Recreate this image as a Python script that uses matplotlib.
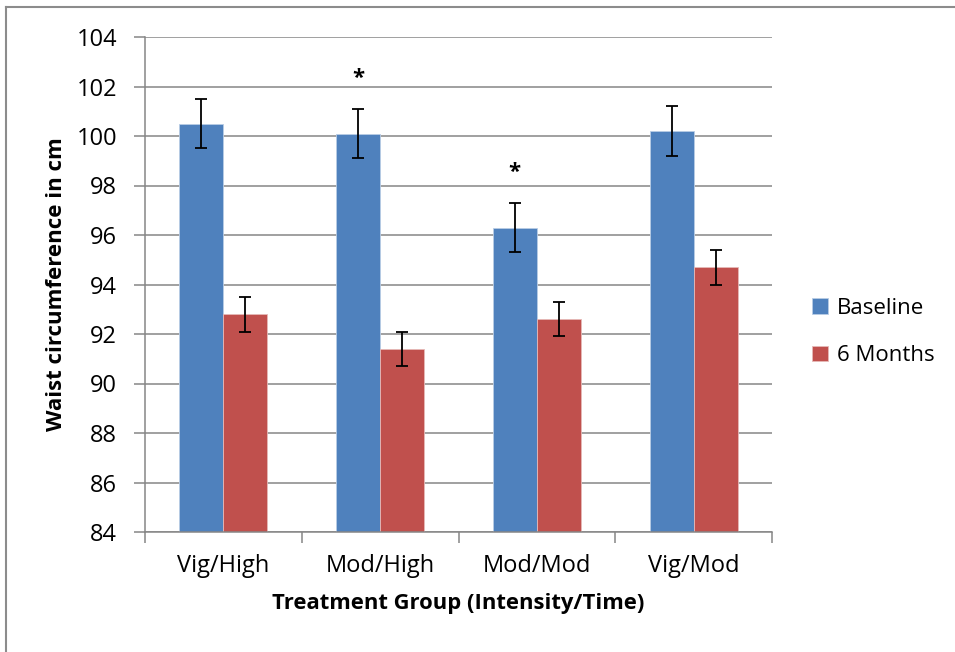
import numpy as np
import matplotlib
matplotlib.use("Agg")
import matplotlib.pyplot as plt
from matplotlib.lines import Line2D

plt.rcParams['font.family'] = ['Open Sans', 'DejaVu Sans']

# Data
groups = ['Vig/High', 'Mod/High', 'Mod/Mod', 'Vig/Mod']
baseline = [100.5, 100.1, 96.3, 100.2]
baseline_err = [1.0, 1.0, 1.0, 1.0]
months6 = [92.8, 91.4, 92.6, 94.7]
months6_err = [0.7, 0.7, 0.7, 0.7]
significant = [False, True, True, False]

fig = plt.figure(figsize=(9.55, 6.52), dpi=100)
ax = fig.add_axes([145 / 955, 1 - 532 / 652, (772 - 145) / 955, (532 - 37) / 652])

x = np.arange(len(groups))
w = 0.281
grey = '#868686'

ax.bar(x - w / 2, baseline, w, color='#4F81BD', edgecolor='#B9CDE5',
       linewidth=0.6, label='Baseline', zorder=2)
ax.bar(x + w / 2, months6, w, color='#C0504D', edgecolor='#E6B9B8',
       linewidth=0.6, label='6 Months', zorder=2)
ax.errorbar(x - w / 2, baseline, yerr=baseline_err, fmt='none', ecolor='black',
            elinewidth=1.3, capsize=4.5, capthick=1.3, zorder=3)
ax.errorbar(x + w / 2, months6, yerr=months6_err, fmt='none', ecolor='black',
            elinewidth=1.3, capsize=4.5, capthick=1.3, zorder=3)

# significance markers
for i, sig in enumerate(significant):
    if sig:
        ax.annotate('*', (x[i] - w / 2, baseline[i] + baseline_err[i]),
                    xytext=(0, 14), textcoords='offset points',
                    ha='center', va='bottom', fontsize=16, fontweight='bold')

ax.set_ylim(84, 104)
ax.set_xlim(-0.5, len(groups) - 0.5)
ax.set_yticks(np.arange(84, 105, 2))
ax.yaxis.grid(True, color=grey, linewidth=1.1, zorder=0)
ax.set_axisbelow(True)

ax.set_xticks(x)
ax.set_xticklabels(groups)
ax.set_xticks(np.arange(-0.5, len(groups)), minor=True)
ax.tick_params(axis='x', which='major', length=0, pad=16, labelsize=17)
ax.tick_params(axis='x', which='minor', length=8, width=1.1, color=grey, direction='out')
ax.tick_params(axis='y', length=8, width=1.1, color=grey, pad=12, labelsize=17)

for s in ['top', 'right']:
    ax.spines[s].set_visible(False)
for s in ['left', 'bottom']:
    ax.spines[s].set_color(grey)
    ax.spines[s].set_linewidth(1.1)

ax.set_ylabel('Waist circumference in cm', fontsize=16, fontweight='bold', labelpad=7)
ax.set_xlabel('Treatment Group (Intensity/Time)', fontsize=15.8, fontweight='bold', labelpad=11)

fig.legend(loc='center left', bbox_to_anchor=(801 / 955, 1 - 332 / 652), frameon=False,
           fontsize=16, handlelength=0.7, handleheight=0.7, handletextpad=0.4,
           labelspacing=1.2, borderpad=0)

# chart border (top and left edges visible)
fig.add_artist(Line2D([6 / 955, 6 / 955], [0, 1 - 7 / 652], color='#8c8c8c', linewidth=1.5,
                      transform=fig.transFigure))
fig.add_artist(Line2D([6 / 955, 1], [1 - 7 / 652, 1 - 7 / 652], color='#8c8c8c', linewidth=1.5,
                      transform=fig.transFigure))

fig.savefig('out.png', dpi=100)
